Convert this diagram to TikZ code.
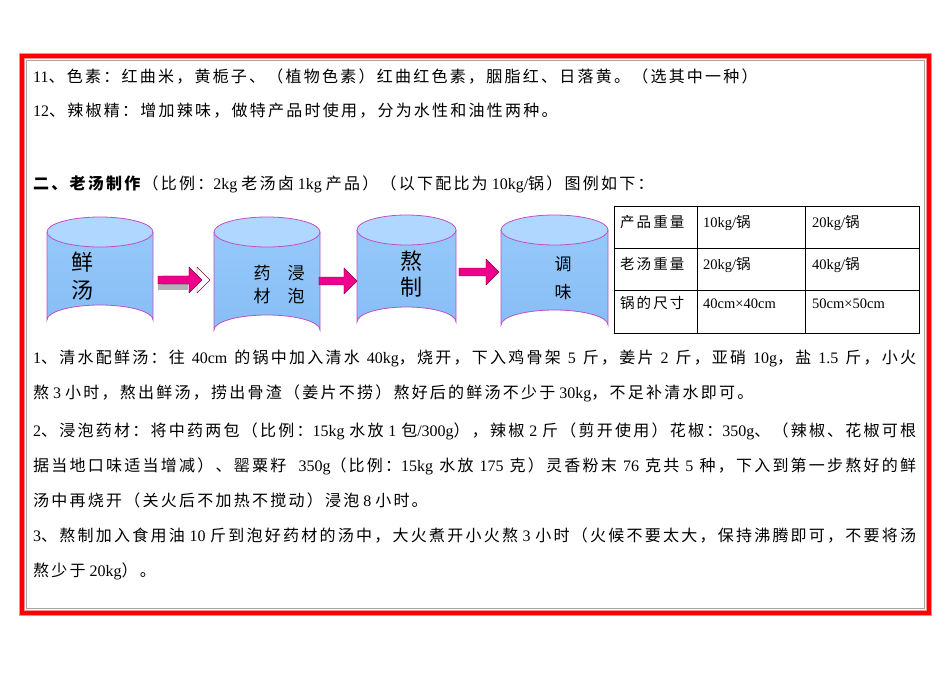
\documentclass[tikz,border=0pt]{standalone}
\usepackage{fontspec}
\setmainfont{Liberation Serif}
\newfontfamily\cjk[LetterSpace=14]{Noto Sans CJK SC}
\newfontfamily\cjkp{Noto Sans CJK SC}
\usetikzlibrary{shapes.arrows}
\XeTeXinterchartokenstate=1
\newXeTeXintercharclass\cjkclass
\count255="3000
\loop \XeTeXcharclass\count255=\cjkclass \ifnum\count255<"9FFF \advance\count255 1 \repeat
\count255="FF00
\loop \XeTeXcharclass\count255=\cjkclass \ifnum\count255<"FFEF \advance\count255 1 \repeat
\XeTeXinterchartoks 0 \cjkclass {\begingroup\cjk}
\XeTeXinterchartoks 4095 \cjkclass {\begingroup\cjk}
\XeTeXinterchartoks \cjkclass 0 {\endgroup}
\XeTeXinterchartoks \cjkclass 4095 {\endgroup}
\definecolor{cylbody}{RGB}{150,200,250}
\definecolor{cylbodyb}{RGB}{135,190,245}
\definecolor{cyltop}{RGB}{175,215,255}
\definecolor{cylline}{RGB}{190,80,200}
\begin{document}
\begin{tikzpicture}[x=1pt,y=-1pt,
  ln/.style={anchor=base west,inner sep=0pt,font=\fontsize{16}{18}\selectfont},
  cyl/.style={draw=cylline,line width=0.8pt},
  blk/.style={single arrow,draw=purple!70!black,fill=magenta,minimum height=#1,minimum width=26pt,single arrow head extend=5pt,inner sep=2pt},
  lab/.style={inner sep=0pt,align=center}]
\useasboundingbox (0,0) rectangle (950,672);
% frame
\draw[red!45,line width=6pt] (22,56) rectangle (929,613);
\draw[red,line width=3.5pt] (22,56) rectangle (929,613);
\draw[gray!70,line width=0.5pt] (26.5,60.5) rectangle (924.5,608.5);
% text
\newcommand\jline[2]{\node[ln] at (33,#1) {\makebox[883pt][s]{#2}};}
\node[ln] (t1) at (33,82) {11、色素：红曲米，黄栀子、（植物色素）红曲红色素，胭脂红、日落黄。（选其中一种）};
\node[ln] (t2) at (33,116) {12、辣椒精：增加辣味，做特产品时使用，分为水性和油性两种。};
\node[ln] (t3) at (33,189) {\textbf{二、老汤制作}（比例：2kg 老汤卤 1kg 产品）（以下配比为 10kg/锅）图例如下：};
\jline{363}{1、清水配鲜汤：往 40cm 的锅中加入清水 40kg，烧开，下入鸡骨架 5 斤，姜片 2 斤，亚硝 10g，盐 1.5 斤，小火}
\node[ln] (p2) at (33,398) {熬 3 小时，熬出鲜汤，捞出骨渣（姜片不捞）熬好后的鲜汤不少于 30kg，不足补清水即可。};
\jline{436}{2、浸泡药材：将中药两包（比例：15kg 水放 1 包/300g），辣椒 2 斤（剪开使用）花椒：350g、（辣椒、花椒可根}
\jline{471}{据当地口味适当增减）、罂粟籽 \ 350g（比例：15kg 水放 175 克）灵香粉末 76 克共 5 种，下入到第一步熬好的鲜}
\node[ln] (p5) at (33,506) {汤中再烧开（关火后不加热不搅动）浸泡 8 小时。};
\jline{541}{3、熬制加入食用油 10 斤到泡好药材的汤中，大火煮开小火熬 3 小时（火候不要太大，保持沸腾即可，不要将汤}
\node[ln] (p7) at (33,576) {熬少于 20kg）。};
% table
\draw[line width=0.6pt] (614,206) rectangle (919,333);
\draw[line width=0.6pt] (614,248)--(919,248) (614,290)--(919,290) (697,206)--(697,333) (805,206)--(805,333);
\begin{scope}[every node/.style={ln,font=\fontsize{14.5}{16}\selectfont}]
\node (a1) at (620,227) {产品重量}; \node (a2) at (703,227) {10kg/锅}; \node (a3) at (812,227) {20kg/锅};
\node (b1) at (620,269) {老汤重量}; \node (b2) at (703,269) {20kg/锅}; \node (b3) at (812,269) {40kg/锅};
\node (c1) at (620,308) {锅的尺寸}; \node (c2) at (703,308) {40cm×40cm}; \node (c3) at (812,308) {50cm×50cm};
\end{scope}
% cylinders
\newcommand\cyl[5]{% name,x1,x2,ytop,ybot
 \path[top color=cylbody,bottom color=cylbodyb] (#2,#4) -- (#2,#5) arc[start angle=180,end angle=360,x radius=(#3-#2)/2,y radius=15] -- (#3,#4) -- cycle;
 \draw[cyl] (#2,#4) -- (#2,#5) arc[start angle=180,end angle=360,x radius=(#3-#2)/2,y radius=15] -- (#3,#4);
 \draw[cyl,fill=cyltop] ({(#2+#3)/2},#4) ellipse[x radius=(#3-#2)/2,y radius=15];
 \coordinate (#1) at ({(#2+#3)/2},{(#4+#5)/2});}
\cyl{c1}{47}{153}{232}{320}
\cyl{c2}{214}{320}{232}{330}
\cyl{c3}{357}{456}{230}{322}
\cyl{c4}{501}{608}{230}{325}
\node[lab,font=\cjkp\fontsize{22}{28}\selectfont] (l1) at (82,276) {鲜\\汤};
\node[lab,font=\cjkp\fontsize{17}{23}\selectfont] (l2a) at (262,285) {药\\材};
\node[lab,font=\cjkp\fontsize{17}{23}\selectfont] (l2b) at (296,285) {浸\\泡};
\node[lab,font=\cjkp\fontsize{22}{26}\selectfont] (l3) at (411,274) {熬\\制};
\node[lab,font=\cjkp\fontsize{17}{28}\selectfont] (l4) at (563,278) {调\\味};
% arrows
\fill[gray!60] (180,283) ++(-22,-7) rectangle ++(30,14);
\node[blk=48pt,fill=white] (a1w) at (184,280) {};
\node[blk=44pt] (a1) at (178,280) {};
\node[blk=38pt] (a2) at (336,281) {};
\node[blk=40pt] (a3) at (477,272) {};
\end{tikzpicture}
\end{document}
